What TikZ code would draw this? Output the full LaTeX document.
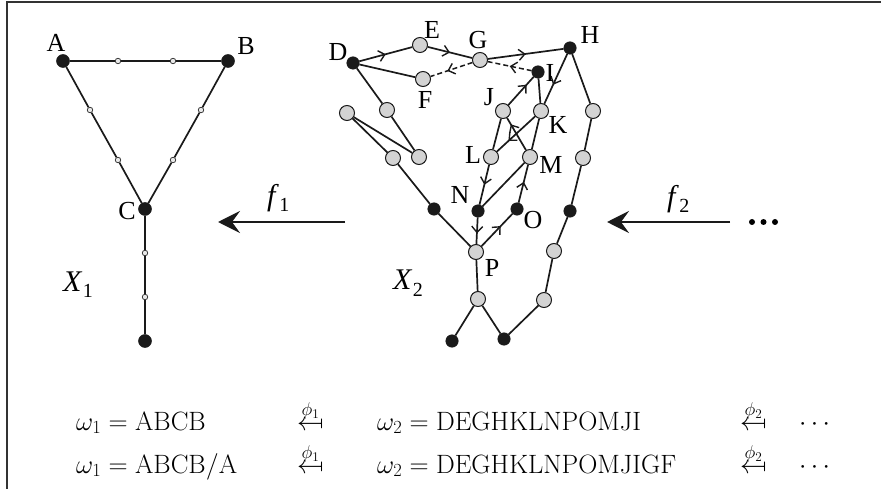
\RequirePackage{fix-cm}
\documentclass[tikz,border=0pt]{standalone}
\usepackage[no-math]{fontspec}
\newfontfamily\labfont{Liberation Serif}
\usetikzlibrary{arrows.meta,decorations.markings}
\DeclareMathSizes{26.5}{26.5}{18.5}{13.25}
\newcommand{\mapsfromsym}{\mathrel{\reflectbox{$\mapsto$}}}
\definecolor{ngray}{RGB}{211,211,211}
\definecolor{nblack}{RGB}{26,26,26}
\tikzset{
 gnode/.style={circle,draw=nblack,fill=ngray,line width=1pt,minimum size=15pt,inner sep=0},
 bnode/.style={circle,fill=nblack,draw=nblack,line width=0.5pt,minimum size=12.5pt,inner sep=0},
 Bnode/.style={circle,fill=nblack,draw=nblack,line width=0.5pt,minimum size=13pt,inner sep=0},
 snode/.style={circle,draw=nblack!85,fill=ngray!50,line width=0.8pt,minimum size=5.5pt,inner sep=0},
 dotn/.style={circle,fill=black,minimum size=6pt,inner sep=0},
 ln/.style={line width=1.7pt,draw=nblack},
 dsh/.style={line width=1.5pt,draw=nblack,dash pattern=on 5pt off 3pt},
 midarr/.style={postaction={decorate},decoration={markings,mark=at position #1 with {\arrow{Straight Barb[length=6pt,width=11pt,line width=1.4pt]}}}},
 midarr/.default=0.5,
 lab/.style={font=\labfont\fontsize{26}{30}\selectfont,inner sep=0},
 bigit/.style={font=\labfont\fontsize{30}{36}\selectfont,inner sep=0,anchor=base west},
 fm/.style={font=\fontsize{26.5}{32}\selectfont,inner sep=0,anchor=base west},
 mapar/.style={line width=2.6pt,draw=nblack,-{Stealth[length=22pt,width=22pt,inset=8pt]}}
}
\newcommand{\itsub}[2]{\textit{#1}\kern0.5pt\raisebox{-6pt}{\fontsize{20}{24}\selectfont #2}}
\begin{document}
\begin{tikzpicture}[x=1pt,y=-1pt]
\useasboundingbox (0,0) rectangle (881,489);
\draw[line width=1.8pt,draw=black!80] (7,489) -- (7,2) -- (881,2);

% ---------- X1 ----------
\node[Bnode] (A) at (63,61) {};
\node[Bnode] (B) at (228,61) {};
\node[Bnode] (C) at (145,209) {};
\node[Bnode] (Z) at (145,341) {};
\node[snode] (ab1) at (118,61) {};
\node[snode] (ab2) at (173,61) {};
\node[snode] (ac1) at (90,110) {};
\node[snode] (ac2) at (118,160) {};
\node[snode] (bc1) at (201,110) {};
\node[snode] (bc2) at (173,160) {};
\node[snode] (cz1) at (145,253) {};
\node[snode] (cz2) at (145,297) {};
\draw[ln] (A) -- (ab1) -- (ab2) -- (B);
\draw[ln] (A) -- (ac1) -- (ac2) -- (C);
\draw[ln] (B) -- (bc1) -- (bc2) -- (C);
\draw[ln] (C) -- (cz1) -- (cz2) -- (Z);
\node[lab] (lA) at (56,43) {A};
\node[lab] (lB) at (246,46) {B};
\node[lab] (lC) at (127,211) {C};
\node[bigit] (X1) at (63,291) {\itsub{X}{1}};

% ---------- map f1 ----------
\coordinate (f1s) at (345,222);
\coordinate (f1e) at (218,222);
\draw[mapar] (f1s) -- (f1e);
\node[bigit] (f1) at (267,206) {\itsub{f}{1}};

% ---------- X2 ----------
\node[bnode] (D) at (353,63) {};
\node[gnode] (E) at (420,45) {};
\node[gnode] (G) at (480,60) {};
\node[bnode] (H) at (570,48) {};
\node[bnode] (I) at (538,72) {};
\node[gnode] (F) at (423,79) {};
\node[gnode] (J) at (503,111) {};
\node[gnode] (K) at (541,111) {};
\node[gnode] (r1) at (593,111) {};
\node[gnode] (q1) at (347,113) {};
\node[gnode] (q2) at (387,110) {};
\node[gnode] (q3) at (393,158) {};
\node[gnode] (q4) at (419,157) {};
\node[gnode] (L) at (491,157) {};
\node[gnode] (M) at (530,157) {};
\node[gnode] (r2) at (583,158) {};
\node[bnode] (q5) at (434,209) {};
\node[bnode] (N) at (478,211) {};
\node[bnode] (O) at (517,209) {};
\node[bnode] (r3) at (570,211) {};
\node[gnode] (P) at (476,252) {};
\node[gnode] (r4) at (554,251) {};
\node[gnode] (s1) at (478,299) {};
\node[gnode] (r5) at (544,300) {};
\node[bnode] (t1) at (452,341) {};
\node[bnode] (t2) at (504,339) {};

\draw[ln,midarr] (D) -- (E);
\draw[ln,midarr] (E) -- (G);
\draw[ln,midarr] (G) -- (H);
\draw[ln] (D) -- (F);
\draw[dsh,midarr] (I) -- (G);
\draw[dsh,midarr=0.6] (G) -- (F);
\draw[ln] (D) -- (q2) -- (q4);
\draw[ln] (q1) -- (q4);
\draw[ln] (q1) -- (q3) -- (q5) -- (P);
\draw[ln,midarr=0.62] (H) -- (K);
\draw[ln,midarr=0.7] (K) -- (L);
\draw[ln,midarr=0.5] (L) -- (N);
\draw[ln,midarr=0.6] (N) -- (P);
\draw[ln,midarr=0.62] (P) -- (O);
\draw[ln,midarr=0.55] (O) -- (M);
\draw[ln,midarr=0.8] (M) -- (J);
\draw[ln,midarr=0.72] (J) -- (I);
\draw[ln] (I) -- (K);
\draw[ln] (K) -- (M);
\draw[ln] (M) -- (N);
\draw[ln] (L) -- (J);
\draw[ln] (H) -- (r1) -- (r2) -- (r3) -- (r4) -- (r5) -- (t2);
\draw[ln] (P) -- (s1);
\draw[ln] (s1) -- (t1);
\draw[ln] (s1) -- (t2);

\node[lab] (lD) at (338,52) {D};
\node[lab] (lE) at (432,30) {E};
\node[lab] (lG) at (478,40) {G};
\node[lab] (lH) at (590,35) {H};
\node[lab] (lI) at (550,73) {I};
\node[lab] (lF) at (425,100) {F};
\node[lab] (lJ) at (489,97) {J};
\node[lab] (lK) at (558,125) {K};
\node[lab] (lL) at (473,155) {L};
\node[lab] (lM) at (551,165) {M};
\node[lab] (lN) at (460,195) {N};
\node[lab] (lO) at (533,220) {O};
\node[lab] (lP) at (492,268) {P};
\node[bigit] (X2) at (393,290) {\itsub{X}{2}};

% ---------- map f2 ----------
\coordinate (f2s) at (730,222);
\coordinate (f2e) at (607,222);
\draw[mapar] (f2s) -- (f2e);
\node[bigit] (f2) at (667,207) {\itsub{f}{2}};
\node[dotn] (e1) at (752,222) {};
\node[dotn] (e2) at (763.5,222) {};
\node[dotn] (e3) at (775,222) {};

% ---------- formulas ----------
\node[fm] (w1a) at (76,430) {$\omega_1 = \mathrm{ABCB}$};
\node[fm] (p1a) at (297,430) {$\stackrel{\phi_1}{\mapsfromsym}$};
\node[fm] (w2a) at (377,430) {$\omega_2 = \mathrm{DEGHKLNPOMJI}$};
\node[fm] (p2a) at (740,430) {$\stackrel{\phi_2}{\mapsfromsym}$};
\node[fm] (da) at (799,430) {$\cdots$};
\node[fm] (w1b) at (76,473) {$\omega_1 = \mathrm{ABCB/A}$};
\node[fm] (p1b) at (297,473) {$\stackrel{\phi_1}{\mapsfromsym}$};
\node[fm] (w2b) at (377,473) {$\omega_2 = \mathrm{DEGHKLNPOMJIGF}$};
\node[fm] (p2b) at (740,473) {$\stackrel{\phi_2}{\mapsfromsym}$};
\node[fm] (db) at (799,473) {$\cdots$};
\end{tikzpicture}
\end{document}
